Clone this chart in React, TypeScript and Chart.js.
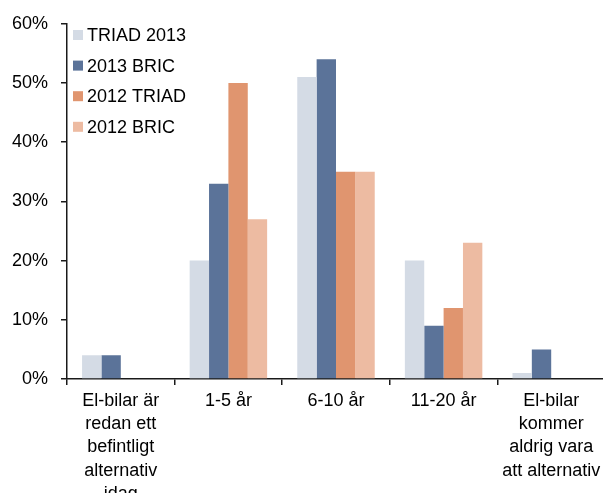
import React, { useEffect, useRef } from "react";
import { Chart, registerables } from "chart.js";

Chart.register(...registerables);

const categories: string[][] = [
  ["El-bilar är", "redan ett", "befintligt", "alternativ", "idag"],
  ["1-5 år"],
  ["6-10 år"],
  ["11-20 år"],
  ["El-bilar", "kommer", "aldrig vara", "att alternativ"],
];

const seriesNames = ["TRIAD 2013", "2013 BRIC", "2012 TRIAD", "2012 BRIC"];
const triad2013 = [4, 20, 51, 20, 1];
const bric2013 = [4, 33, 54, 9, 5];
const triad2012 = [0, 50, 35, 12, 0];
const bric2012 = [0, 27, 35, 23, 0];
const colors = ["#D4DBE5", "#5B7399", "#E0956F", "#EDBBA2"];

const FONT = "'Liberation Sans', Arial, sans-serif";

const legendPlugin = {
  id: "customLegend",
  afterDraw(chart: any) {
    const ctx = chart.ctx;
    ctx.save();
    ctx.font = `18px ${FONT}`;
    ctx.textBaseline = "middle";
    ctx.textAlign = "left";
    chart.data.datasets.forEach((ds: any, i: number) => {
      const cy = 35 + i * 30.6;
      ctx.fillStyle = ds.backgroundColor;
      ctx.fillRect(73, cy - 5, 10, 10);
      ctx.fillStyle = "#000";
      ctx.fillText(ds.label, 87, cy + 1);
    });
    ctx.restore();
  },
};

export default function App() {
  const ref = useRef<HTMLCanvasElement | null>(null);
  useEffect(() => {
    if (!ref.current) return;
    const values = [triad2013, bric2013, triad2012, bric2012];
    const chart = new Chart(ref.current, {
      type: "bar",
      data: {
        labels: categories,
        datasets: seriesNames.map((name, i) => ({
          label: name,
          data: values[i],
          backgroundColor: colors[i],
          borderWidth: 0,
          categoryPercentage: 0.72,
          barPercentage: 1,
        })),
      },
      options: {
        animation: false,
        responsive: true,
        maintainAspectRatio: false,
        layout: { padding: { top: 20, left: 0, right: 7, bottom: 0 } },
        plugins: { legend: { display: false }, tooltip: { enabled: false } },
        scales: {
          x: {
            offset: true,
            border: { color: "#1a1a1a", width: 1.5 },
            grid: { drawOnChartArea: false, drawTicks: true, tickLength: 6, color: "#1a1a1a", lineWidth: 1.5, offset: true },
            ticks: { color: "#000", font: { family: FONT, size: 18, lineHeight: 1.3 }, padding: 4, maxRotation: 0, autoSkip: false },
            afterFit: (s: any) => { s.height = 114; },
          },
          y: {
            min: 0,
            max: 60,
            border: { color: "#1a1a1a", width: 1.5 },
            grid: { drawOnChartArea: false, drawTicks: true, tickLength: 6, color: "#1a1a1a", lineWidth: 1.5 },
            ticks: { stepSize: 10, color: "#000", font: { family: FONT, size: 18 }, padding: 13, callback: (v: any) => v + "%" },
            afterFit: (s: any) => { s.width = 67; },
          },
        },
      },
      plugins: [legendPlugin],
    });
    return () => chart.destroy();
  }, []);
  return (
    <div style={{ position: "fixed", left: 0, top: 0, width: 603, height: 493, overflow: "hidden", background: "#fff" }}>
      <div style={{ position: "absolute", left: 0, top: 0, width: 612, height: 493 }}>
        <canvas ref={ref} />
      </div>
    </div>
  );
}
